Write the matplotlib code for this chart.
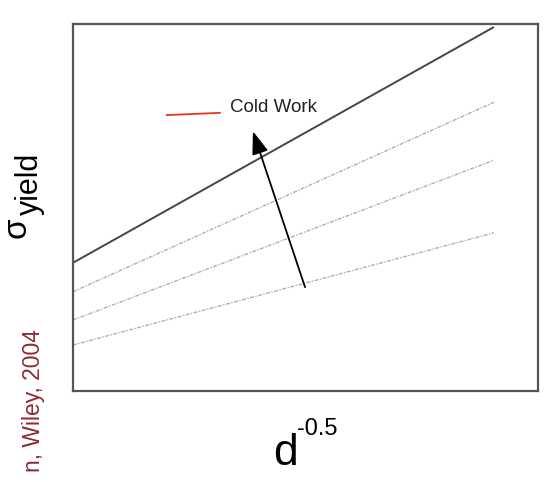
import matplotlib
matplotlib.use("Agg")
import matplotlib.pyplot as plt

plt.rcParams['font.family'] = ['Liberation Sans', 'DejaVu Sans']

# grain size axis (d^-0.5), arbitrary units
grainX = [0.0, 0.905]

# yield strength lines, top one is the most cold worked
yieldTop = [0.349, 0.992]
yield2 = [0.270, 0.787]
yield3 = [0.193, 0.629]
yield4 = [0.125, 0.431]

# legend-ish red tick next to "Cold Work"
redX = [0.202, 0.316]
redY = [0.752, 0.758]

arrowTail = (0.499, 0.283)
arrowHead = (0.387, 0.708)

labelText = "Cold Work"
sourceText = "n, Wiley, 2004"


def main():
    fig = plt.figure(figsize=(5.6, 4.82), dpi=100)
    ax = fig.add_axes([0.130, 0.189, 0.831, 0.761])

    ax.plot(grainX, yieldTop, color="#454545", lw=1.4, solid_capstyle="butt")
    for ys in [yield2, yield3, yield4]:
        ax.plot(grainX, ys, color="#b0b0b0", lw=1.0, linestyle=(0, (3, 1, 1, 1)))

    ax.plot(redX, redY, color="#e8371f", lw=1.3)
    ax.text(0.338, 0.772, labelText, fontsize=13.5, color="#222222",
            ha="left", va="center")

    ax.annotate("", xy=arrowHead, xytext=arrowTail,
                arrowprops=dict(arrowstyle="-|>,head_length=0.7,head_width=0.25",
                                color="black", lw=1.3, mutation_scale=20,
                                shrinkA=0, shrinkB=0))

    ax.set_xlim(0, 1)
    ax.set_ylim(0, 1)
    ax.set_xticks([])
    ax.set_yticks([])
    for s in ax.spines.values():
        s.set_color("#555555")
        s.set_linewidth(1.6)

    # axis labels built from pieces
    fig.text(273 / 560, 1 - 465 / 482, "d", fontsize=32, ha="left", va="baseline")
    fig.text(297 / 560, 1 - 435 / 482, "-0.5", fontsize=17, ha="left", va="baseline")

    fig.text(26 / 560, 1 - 238 / 482, "σ", fontsize=24, rotation=90,
             rotation_mode="anchor", ha="left", va="baseline")
    fig.text(38 / 560, 1 - 215 / 482, "yield", fontsize=22, rotation=90,
             rotation_mode="anchor", ha="left", va="baseline")

    fig.text(40 / 560, 1 - 472 / 482, sourceText, fontsize=16.5, rotation=90,
             rotation_mode="anchor", ha="left", va="baseline", color="#8e2a35")

    fig.savefig("out.png", dpi=100)
    return "done"


print(main())
